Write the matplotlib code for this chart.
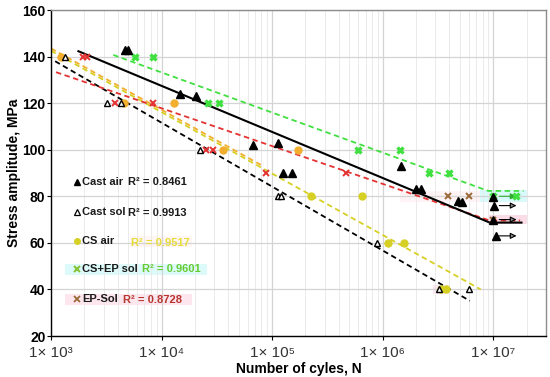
import matplotlib
matplotlib.use("Agg")
from matplotlib import pyplot as plt
from matplotlib.patches import Rectangle
from matplotlib.ticker import FixedLocator, LogLocator, NullFormatter

"""
S-N curves (stress amplitude vs number of cycles) for cast and coated samples.
"""

plt.rcParams['font.family'] = ['Liberation Sans', 'DejaVu Sans']

# ---- data ----
cast_air_n = [4.7e3, 5.0e3, 1.47e4, 2.07e4, 6.75e4, 1.12e5, 1.26e5, 1.5e5,
              1.45e6, 2.0e6, 2.2e6, 4.8e6, 5.2e6]
cast_air_s = [143, 143, 124, 123, 102, 103, 90, 90, 93, 83, 83, 78, 77.5]
cast_air_run_n = [1.0e7, 1.02e7, 1.0e7, 1.05e7]
cast_air_run_s = [79.5, 76, 70, 63]

cast_sol_n = [1.34e3, 3.23e3, 4.27e3, 2.22e4, 1.13e5, 1.2e5, 8.9e5, 3.25e6, 6.0e6]
cast_sol_s = [140, 120, 120, 100, 80, 80, 60, 40, 40]

cs_air_hi_n = [1.23e3, 4.6e3, 1.29e4, 3.56e4, 1.72e5]
cs_air_hi_s = [140, 120, 120, 100, 100]
cs_air_lo_n = [2.23e5, 6.46e5, 1.12e6, 1.55e6, 3.36e6, 3.7e6]
cs_air_lo_s = [80, 80, 60, 60, 40, 40]

cs_ep_n = [5.75e3, 8.3e3, 2.61e4, 3.33e4, 6.0e5, 1.43e6, 2.63e6, 4.0e6]
cs_ep_s = [140, 140, 120, 120, 100, 100, 90, 90]
cs_ep_run_n = [1.0e7, 1.6e7]
cs_ep_run_s = [80, 80]

ep_sol_n = [1.93e3, 2.13e3, 3.8e3, 8.4e3, 2.5e4, 2.9e4, 8.8e4, 4.7e5]
ep_sol_s = [140, 140, 120, 120, 100, 100, 90, 90]
ep_sol_late_n = [3.9e6, 6.0e6]
ep_sol_late_s = [80, 80]
ep_sol_run_n = [1.0e7]
ep_sol_run_s = [70]

# trend lines (end points / knee points)
fit_cast_air_n = [1.77e3, 9.3e6, 1.8e7]
fit_cast_air_s = [142.3, 68.7, 68.7]
fit_cast_sol_n = [1.09e3, 6.14e6]
fit_cast_sol_s = [138, 35.1]
fit_cs_air_n = [1.0e3, 7.7e6]
fit_cs_air_s = [142.5, 40]
fit_cs_air_hi_n = [1.0e3, 7.9e4]
fit_cs_air_hi_s = [143.5, 93.5]
fit_cs_ep_n = [3.66e3, 9.0e6, 1.88e7]
fit_cs_ep_s = [140.7, 82.3, 82.3]
fit_ep_sol_n = [1.11e3, 9.3e6, 1.75e7]
fit_ep_sol_s = [133.3, 69.6, 69.6]

arrow_start = 1.07e7
arrow_end = 1.72e7
black_arrows_s = [76, 70, 63]

legend_names = ["Cast air", "Cast sol", "CS air", "CS+EP sol", "EP-Sol"]
legend_r2 = ["R\u00b2 = 0.8461", "R\u00b2 = 0.9913", "R\u00b2 = 0.9517",
             "R\u00b2 = 0.9601", "R\u00b2 = 0.8728"]

x_ticks = [1e3, 1e4, 1e5, 1e6, 1e7]
x_tick_labels = ["1\u00d7 10\u00b3", "1\u00d7 10\u2074", "1\u00d7 10\u2075",
                 "1\u00d7 10\u2076", "1\u00d7 10\u2077"]
y_ticks = [20, 40, 60, 80, 100, 120, 140, 160]

ORANGE = "#F2AE2E"
YELLOW = "#D6D024"
GREEN = "#3FE03F"
RED = "#E53232"
BROWN = "#9A6A3A"

# axes box in figure pixels (550 x 377)
AX_L, AX_R, AX_T, AX_B = 51, 546, 10, 336


def px(x, y):
    """Figure pixel -> axes fraction."""
    return (x - AX_L) / (AX_R - AX_L), (AX_B - y) / (AX_B - AX_T)


fig = plt.figure(figsize=(5.5, 3.77), dpi=100)
ax = fig.add_axes([AX_L / 550, 1 - AX_B / 377, (AX_R - AX_L) / 550, (AX_B - AX_T) / 377])
ax.set_xscale("log")
ax.set_xlim(1e3, 3e7)
ax.set_ylim(20, 160)

# grid
ax.xaxis.set_major_locator(FixedLocator(x_ticks))
ax.xaxis.set_minor_locator(LogLocator(base=10, subs=range(2, 10)))
ax.xaxis.set_minor_formatter(NullFormatter())
ax.set_yticks(y_ticks)
ax.grid(True, which="major", axis="both", color="#D4D4D4", lw=0.9, zorder=0)
ax.grid(True, which="minor", axis="x", color="#EAEAEA", lw=0.7, zorder=0)
ax.set_axisbelow(True)

# label background boxes (Excel artefacts)
boxes = [((480, 190), (527, 202), "#D8FAFA"), ((488, 215), (528, 224), "#FBDDE8"),
         ((400, 191), (480, 202), "#FFF3F6"), ((433, 285), (449, 294), "#FDE6EE"),
         ((65, 264), (207, 275), "#DDFAFA"), ((65, 294), (192, 305), "#FDE6EE"),
         ((130, 236), (192, 247), "#FFF6F3")]
for (x0, y0), (x1, y1), col in boxes:
    a0 = px(x0, y1)
    a1 = px(x1, y0)
    ax.add_patch(Rectangle(a0, a1[0] - a0[0], a1[1] - a0[1], transform=ax.transAxes,
                           facecolor=col, edgecolor="none", zorder=0.5))

# trend lines
ax.plot(fit_cs_air_hi_n, fit_cs_air_hi_s, ls=(0, (3, 2)), color=ORANGE, lw=1.3, zorder=2)
ax.plot(fit_cs_air_n, fit_cs_air_s, ls=(0, (3, 2)), color=YELLOW, lw=1.3, zorder=2)
ax.plot(fit_cast_sol_n, fit_cast_sol_s, ls=(0, (3, 2)), color="black", lw=1.3, zorder=2)
ax.plot(fit_cs_ep_n, fit_cs_ep_s, ls=(0, (3, 2)), color=GREEN, lw=1.3, zorder=2)
ax.plot(fit_ep_sol_n, fit_ep_sol_s, ls=(0, (3, 2)), color=RED, lw=1.3, zorder=2)
ax.plot(fit_cast_air_n, fit_cast_air_s, ls="-", color="black", lw=1.5, zorder=2)

# runout arrows
for s in black_arrows_s:
    ax.annotate("", xy=(arrow_end, s), xytext=(arrow_start, s),
                arrowprops=dict(arrowstyle="-|>", color="black", fc="#888888",
                                lw=0.8, mutation_scale=9), zorder=3)
ax.annotate("", xy=(arrow_end, cs_ep_run_s[0]), xytext=(arrow_start, cs_ep_run_s[0]),
            arrowprops=dict(arrowstyle="-|>", color="#33AA33", lw=0.8, mutation_scale=9), zorder=3)

# points
ax.plot(cs_air_hi_n, cs_air_hi_s, "o", color=ORANGE, ms=5, ls="none", zorder=4)
ax.plot(cs_air_lo_n, cs_air_lo_s, "o", color=YELLOW, ms=5, ls="none", zorder=4)
ax.plot(cs_ep_n + cs_ep_run_n, cs_ep_s + cs_ep_run_s, "x", color=GREEN, ms=5, mew=2.4,
        ls="none", zorder=4)
ax.plot(ep_sol_n, ep_sol_s, "x", color=RED, ms=5, mew=1.4, ls="none", zorder=4)
ax.plot(ep_sol_late_n + ep_sol_run_n, ep_sol_late_s + ep_sol_run_s, "x", color=BROWN,
        ms=5, mew=1.4, ls="none", zorder=4)
ax.plot(cast_sol_n, cast_sol_s, "^", mfc="white", mec="black", ms=5, mew=1.0, ls="none", zorder=5)
ax.plot(cast_air_n + cast_air_run_n, cast_air_s + cast_air_run_s, "^", color="black",
        ms=6, ls="none", zorder=5)

# in-plot legend
rows_y = [182, 212, 241, 269, 299]
r2_x = [128, 128, 131, 142, 123]
r2_dy = [0, 1, 1.5, 0, 1]
r2_col = ["#1A1A1A", "#1A1A1A", "#E6DC3A", "#66CC33", "#B8352E"]
mk_style = [dict(marker="^", color="black", ms=5),
            dict(marker="^", mfc="white", mec="black", ms=4, mew=0.9),
            dict(marker="o", color=YELLOW, ms=4),
            dict(marker="x", color="#88C43A", ms=4, mew=1.5),
            dict(marker="x", color=BROWN, ms=4, mew=1.3)]
for i, name in enumerate(legend_names):
    mx, my = px(77, rows_y[i])
    ax.plot([mx], [my], transform=ax.transAxes, ls="none", zorder=6, **mk_style[i])
    tx, ty = px(82, rows_y[i])
    ax.text(tx, ty, name, transform=ax.transAxes, fontsize=8, fontweight="bold",
            color="#1A1A1A", va="center", ha="left", zorder=6)
    rx, ry = px(r2_x[i], rows_y[i] + r2_dy[i])
    ax.text(rx, ry, legend_r2[i], transform=ax.transAxes, fontsize=8, fontweight="bold",
            color=r2_col[i], va="center", ha="left", zorder=6)

# axes styling
ax.set_xticklabels(x_tick_labels, fontsize=11, color="#333333")
for lbl in ax.get_yticklabels():
    lbl.set_fontweight("bold")
    lbl.set_fontsize(10)
ax.tick_params(axis="both", which="major", direction="out", length=3, color="black")
ax.tick_params(axis="y", which="major", pad=1)
ax.tick_params(axis="x", which="minor", length=0)
ax.tick_params(axis="x", which="major", pad=4)
for side in ["left", "bottom"]:
    ax.spines[side].set_color("black")
    ax.spines[side].set_linewidth(1.0)
for side in ["top", "right"]:
    ax.spines[side].set_color("#8C8C8C")
    ax.spines[side].set_linewidth(1.0)

ax.set_xlabel("Number of cyles, N", fontsize=10, fontweight="bold", labelpad=2)
ax.set_ylabel("Stress amplitude, MPa", fontsize=10, fontweight="bold", labelpad=1)

fig.savefig("out.png", dpi=100)
